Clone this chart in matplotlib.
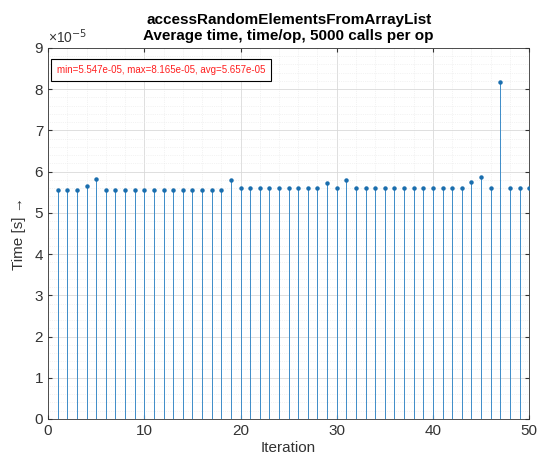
import matplotlib
matplotlib.use("Agg")
import matplotlib.pyplot as plt
import numpy as np
from matplotlib.ticker import MultipleLocator

plt.rcParams['font.family'] = ['Liberation Sans', 'DejaVu Sans']

iterations = list(range(1, 51))
times_e5 = [5.555, 5.555, 5.56, 5.65, 5.83, 5.555, 5.555, 5.555, 5.555, 5.555,
            5.555, 5.555, 5.555, 5.555, 5.555, 5.555, 5.555, 5.56, 5.79, 5.605,
            5.605, 5.605, 5.605, 5.605, 5.605, 5.605, 5.605, 5.605, 5.73, 5.605,
            5.80, 5.605, 5.605, 5.605, 5.605, 5.605, 5.605, 5.605, 5.605, 5.605,
            5.605, 5.605, 5.605, 5.75, 5.88, 5.605, 8.165, 5.605, 5.605, 5.605]
title_lines = ["accessRandomElementsFromArrayList", "Average time, time/op, 5000 calls per op"]
stats_text = "min=5.547e-05, max=8.165e-05, avg=5.657e-05"
x_label = "Iteration"
y_label = "Time [s] \u2192"

line_col = '#3d8cc8'
mark_col = '#1a6eae'
tick_col = '#333333'

fig = plt.figure(figsize=(5.4, 4.66), dpi=100)
ax = fig.add_axes([0.089, 0.101, 0.891, 0.796])

x = np.array(iterations)
y = np.array(times_e5)
ax.vlines(x, 0, y, color=line_col, linewidth=0.7, zorder=3)
ax.plot(x, y, 'o', color=mark_col, markersize=2.2, zorder=4)

ax.set_xlim(0, 50)
ax.set_ylim(0, 9)
ax.xaxis.set_major_locator(MultipleLocator(10))
ax.yaxis.set_major_locator(MultipleLocator(1))
ax.xaxis.set_minor_locator(MultipleLocator(2))
ax.yaxis.set_minor_locator(MultipleLocator(0.2))
ax.grid(True, which='major', color='#d9d9d9', linewidth=0.6)
ax.grid(True, which='minor', color='#e8e8e8', linewidth=0.5, linestyle=':')
ax.set_axisbelow(True)
ax.tick_params(direction='in', which='both', top=True, right=True, colors=tick_col,
               labelsize=11, length=3)
ax.tick_params(which='minor', length=0)
for s in ax.spines.values():
    s.set_color('#333333')
    s.set_linewidth(0.6)

ax.set_xlabel(x_label, fontsize=11, color=tick_col, labelpad=2)
ax.set_ylabel(y_label, fontsize=11, color=tick_col, labelpad=6)
ax.set_title("\n".join(title_lines), fontsize=11, fontweight='bold', color='black', pad=6,
             linespacing=1.15)

ax.text(0.0, 1.005, "\u00d710$^{-5}$", transform=ax.transAxes, fontsize=10, color=tick_col,
        ha='left', va='bottom')

ax.text(0.018, 0.955, stats_text, transform=ax.transAxes, fontsize=7, color='#ff2020',
        ha='left', va='top',
        bbox=dict(boxstyle='square,pad=0.6', facecolor='white', edgecolor='black', linewidth=0.8))

fig.savefig("out.png", dpi=100)
